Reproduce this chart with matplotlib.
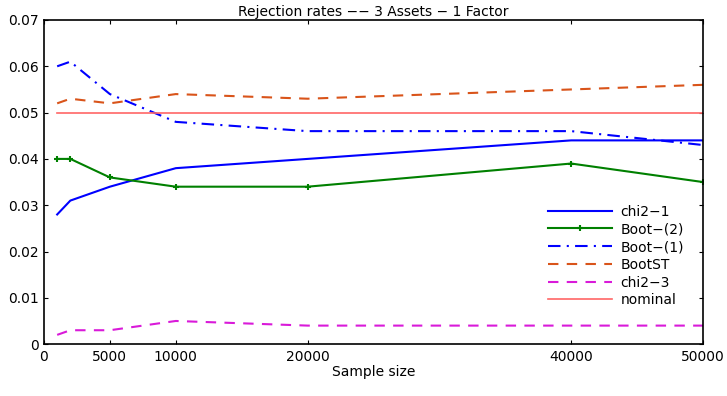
import numpy as np
import matplotlib.pyplot as plt

plt.rcParams['font.family'] = ['DejaVu Sans']

# sample sizes
n = [1000, 2000, 5000, 10000, 20000, 40000, 50000]

chi2_1 = [0.028, 0.031, 0.034, 0.038, 0.040, 0.044, 0.044]
boot2 = [0.040, 0.040, 0.036, 0.034, 0.034, 0.039, 0.035]
boot1 = [0.060, 0.061, 0.054, 0.048, 0.046, 0.046, 0.043]
bootst = [0.052, 0.053, 0.052, 0.054, 0.053, 0.055, 0.056]
chi2_3 = [0.002, 0.003, 0.003, 0.005, 0.004, 0.004, 0.004]
nominal = [0.05] * len(n)

xticks = [0, 5000, 10000, 20000, 40000, 50000]
yticks = [0, 0.01, 0.02, 0.03, 0.04, 0.05, 0.06, 0.07]
ytick_labels = ["0", "0.01", "0.02", "0.03", "0.04", "0.05", "0.06", "0.07"]

fs = 10

fig = plt.figure(figsize=(7.27, 3.96), dpi=100)
ax = fig.add_axes([0.0605, 0.131, 0.9065, 0.8185])

ax.plot(n, chi2_1, color=(0, 0, 1), lw=1.5, label="chi2\u22121")
ax.plot(n, boot2, color=(0, 0.5, 0), lw=1.5, marker="+", ms=5, mew=1.5, label="Boot\u2212(2)")
ax.plot(n, boot1, color=(0, 0, 1), lw=1.5, linestyle=(0, (6, 3, 1, 3)), label="Boot\u2212(1)")
ax.plot(n, bootst, color=(0.85, 0.33, 0.1), lw=1.5, linestyle=(0, (5, 4)), label="BootST")
ax.plot(n, chi2_3, color=(0.85, 0.1, 0.85), lw=1.5, linestyle=(0, (5, 4)), label="chi2\u22123")
ax.plot(n, nominal, color=(1, 0.4, 0.4), lw=1.2, label="nominal")

ax.set_xlim(0, 50000)
ax.set_ylim(0, 0.07)
ax.set_xticks(xticks)
ax.set_xticklabels([str(t) for t in xticks])
ax.set_yticks(yticks)
ax.set_yticklabels(ytick_labels)
ax.tick_params(direction="in", top=True, right=True, labelsize=fs, length=3, width=0.8, pad=4)
for s in ax.spines.values():
    s.set_linewidth(1.2)

ax.set_title("Rejection rates \u2212\u2212 3 Assets \u2212 1 Factor", fontsize=fs, pad=3)
ax.set_xlabel("Sample size", fontsize=fs, labelpad=1)
ax.legend(loc="lower right", bbox_to_anchor=(0.99, 0.075), frameon=False, fontsize=fs,
          handlelength=4.6, labelspacing=0.27, handletextpad=0.6)

fig.savefig("out.png", dpi=100)
